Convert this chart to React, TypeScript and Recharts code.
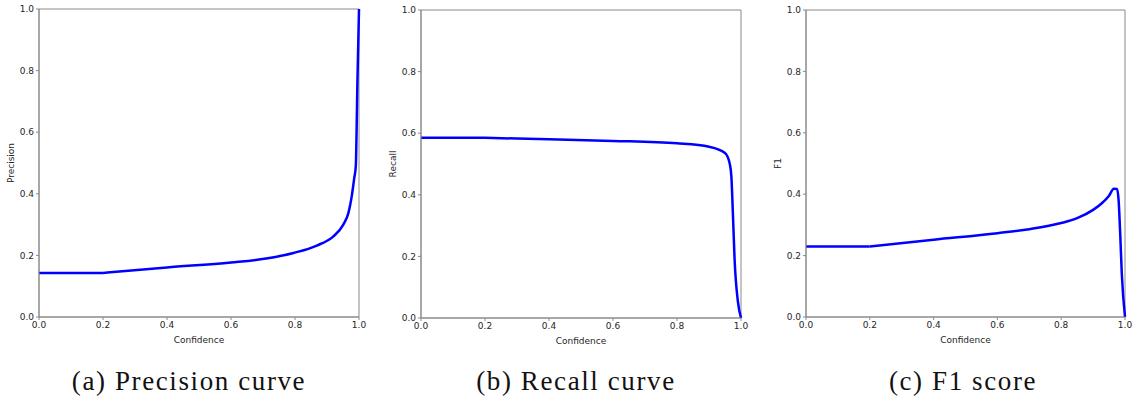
import { LineChart, Line, XAxis, YAxis, ReferenceArea } from "recharts";

// confidence thresholds
const precisionX = [0, 0.2, 0.4, 0.6, 0.71, 0.795, 0.868, 0.92, 0.951, 0.967, 0.977, 0.985, 0.99, 0.995, 1.0];
const precisionY = [0.143, 0.143, 0.161, 0.177, 0.19, 0.208, 0.232, 0.262, 0.3, 0.338, 0.39, 0.45, 0.49, 0.76, 1.0];

const recallX = [0, 0.2, 0.4, 0.6, 0.8, 0.9, 0.95, 0.965, 0.97, 0.975, 0.98, 0.99, 1.0];
const recallY = [0.585, 0.585, 0.58, 0.575, 0.567, 0.556, 0.536, 0.5, 0.458, 0.33, 0.19, 0.056, 0.0];

const f1X = [0, 0.2, 0.4, 0.6, 0.7, 0.8, 0.85, 0.9, 0.93, 0.95, 0.965, 0.975, 0.98, 0.985, 0.99, 1.0];
const f1Y = [0.23, 0.23, 0.252, 0.273, 0.286, 0.306, 0.322, 0.349, 0.373, 0.395, 0.418, 0.417, 0.38, 0.27, 0.14, 0.0];

const ticks = [0, 0.2, 0.4, 0.6, 0.8, 1.0];

// the curves are flat up to 0.2, then bend sharply; split there so the kink stays
const KINK = 0.2;
const build = (xs: number[], ys: number[]) =>
  xs.map((x, i) => ({
    x,
    flat: x <= KINK ? ys[i] : null,
    rest: x >= KINK ? ys[i] : null,
  }));

const AXIS = "#8a8a8a";
const TEXT = "#262626";
const tickStyle = { fontSize: 9, fill: TEXT, fontFamily: "DejaVu Sans" };
const labelStyle = { fontSize: 9, fill: TEXT, fontFamily: "DejaVu Sans" };

type PanelProps = {
  data: { x: number; flat: number | null; rest: number | null }[];
  yLabel: string;
  left: number; // plot area left
  right: number; // plot area right
  top: number;
  bottom: number;
  caption: string;
  captionX: number;
};

function Panel({ data, yLabel, left, right, top, bottom, caption, captionX }: PanelProps) {
  const yAxisW = 40;
  const chartLeft = left - yAxisW;
  const width = right - chartLeft + 8;
  const height = 350;
  const xAxisH = 30;
  return (
    <>
      <div style={{ position: "absolute", left: chartLeft, top: 0 }}>
        <LineChart
          width={width}
          height={height}
          data={data}
          margin={{ top, right: 8, left: 0, bottom: height - bottom - xAxisH }}
        >
          <XAxis
            dataKey="x"
            type="number"
            domain={[0, 1]}
            ticks={ticks}
            tickFormatter={(v: number) => v.toFixed(1)}
            stroke={AXIS}
            tick={tickStyle}
            tickSize={3}
            height={xAxisH}
            label={{ value: "Confidence", position: "insideBottom", offset: 4, style: labelStyle }}
          />
          <YAxis
            type="number"
            domain={[0, 1]}
            ticks={ticks}
            tickFormatter={(v: number) => v.toFixed(1)}
            stroke={AXIS}
            tick={tickStyle}
            tickSize={3}
            width={yAxisW}
            label={{ value: yLabel, angle: -90, position: "insideLeft", offset: 12, style: { ...labelStyle, textAnchor: "middle" } }}
          />
          <ReferenceArea x1={0} x2={1} y1={0} y2={1} fill="none" stroke={AXIS} strokeWidth={1} />
          <Line dataKey="flat" type="linear" stroke="#0000ff" strokeWidth={2.5} dot={false} isAnimationActive={false} />
          <Line dataKey="rest" type="monotone" stroke="#0000ff" strokeWidth={2.5} dot={false} isAnimationActive={false} />
        </LineChart>
      </div>
      <div
        style={{
          position: "absolute",
          left: captionX - 200,
          width: 400,
          top: 366,
          textAlign: "center",
          fontFamily: "'Liberation Serif', 'DejaVu Serif', serif",
          fontSize: 27,
          letterSpacing: 1.6,
          color: "#111",
          whiteSpace: "nowrap",
        }}
      >
        {caption}
      </div>
    </>
  );
}

export default function App() {
  return (
    <div style={{ position: "absolute", left: 0, top: 0, width: 1132, height: 403, background: "#fff", overflow: "hidden" }}>
      <Panel data={build(precisionX, precisionY)} yLabel="Precision" left={39} right={359} top={9} bottom={317} caption="(a) Precision curve" captionX={189} />
      <Panel data={build(recallX, recallY)} yLabel="Recall" left={421} right={741} top={10} bottom={318} caption="(b) Recall curve" captionX={576} />
      <Panel data={build(f1X, f1Y)} yLabel="F1" left={806} right={1125} top={10} bottom={317} caption="(c) F1 score" captionX={963} />
    </div>
  );
}
